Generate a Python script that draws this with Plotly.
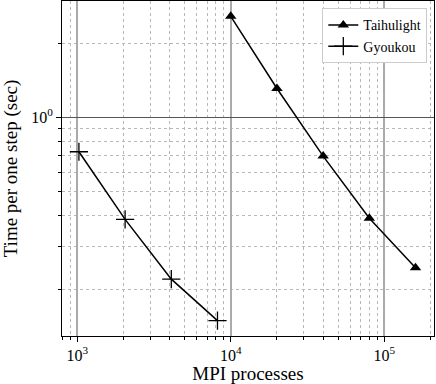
import plotly.graph_objects as go

# MPI processes vs time per step
taihu_procs = [10000, 20000, 40000, 80000, 160000]
taihu_time = [2.57, 1.31, 0.697, 0.39, 0.246]
gyoukou_procs = [1024, 2048, 4096, 8192]
gyoukou_time = [0.726, 0.386, 0.221, 0.150]

x_ticks = [1000, 10000, 100000]
x_labels = ["10<sup>3</sup>", "10<sup>4</sup>", "10<sup>5</sup>"]
y_ticks = [1]
y_labels = ["10<sup>0</sup>"]

font = "Liberation Serif"

fig = go.Figure()
fig.add_trace(go.Scatter(
    x=taihu_procs, y=taihu_time, name="Taihulight", mode="lines+markers",
    line=dict(color="black", width=1.5),
    marker=dict(symbol="triangle-up", size=10, color="black"),
))
fig.add_trace(go.Scatter(
    x=gyoukou_procs, y=gyoukou_time, name="Gyoukou", mode="lines+markers",
    line=dict(color="black", width=1.5),
    marker=dict(symbol="cross-thin-open", size=13, line=dict(color="black", width=1.3)),
))

fig.update_layout(
    width=436, height=384,
    margin=dict(l=62, r=2, t=1, b=48, autoexpand=False),
    plot_bgcolor="white", paper_bgcolor="white",
    font=dict(family=font, size=16, color="black"),
    legend=dict(x=0.982, y=0.978, xanchor="right", yanchor="top",
                bgcolor="white", bordercolor="#cccccc", borderwidth=1,
                font=dict(size=14), itemwidth=30),
)
fig.update_xaxes(
    type="log", range=[2.900, 5.3246], tickvals=x_ticks, ticktext=x_labels,
    automargin=False,
    showline=True, mirror=True, linecolor="black", linewidth=1,
    ticks="outside", ticklen=5, tickcolor="black",
    showgrid=True, gridcolor="#aaaaaa", gridwidth=1.5,
    minor=dict(dtick="D1", ticks="outside", ticklen=3, tickcolor="black",
               showgrid=True, gridcolor="#b8b8b8", griddash="dot", gridwidth=1),
    title=dict(text="MPI processes", font=dict(size=19)),
)
fig.update_yaxes(
    type="log", range=[-0.886, 0.472], tickvals=y_ticks, ticktext=y_labels,
    automargin=False,
    showline=True, mirror=True, linecolor="black", linewidth=1,
    ticks="outside", ticklen=5, tickcolor="black",
    showgrid=True, gridcolor="#555555", gridwidth=1,
    minor=dict(dtick="D1", ticks="outside", ticklen=3, tickcolor="black",
               showgrid=True, gridcolor="#b8b8b8", griddash="dot", gridwidth=1),
    title=dict(text="Time per one step (sec)", font=dict(size=19)),
)

fig.write_html("out.html", config={"displayModeBar": False},
               post_script="document.body.style.margin='0';")
